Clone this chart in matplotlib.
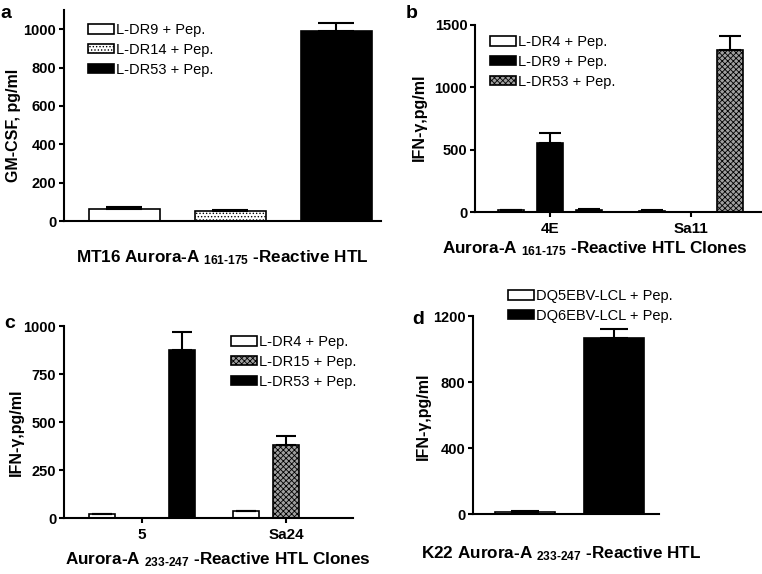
import matplotlib.pyplot as plt
import numpy as np

plt.rcParams['font.family'] = 'Liberation Sans'
plt.rcParams['mathtext.fontset'] = 'custom'
plt.rcParams['mathtext.rm'] = 'Liberation Sans:bold'
plt.rcParams['mathtext.bf'] = 'Liberation Sans:bold'
plt.rcParams['mathtext.it'] = 'Liberation Sans:bold:italic'
plt.rcParams['hatch.linewidth'] = 0.6

# panel a: GM-CSF, MT16
a_labels = ['L-DR9 + Pep.', 'L-DR14 + Pep.', 'L-DR53 + Pep.']
a_vals = [65, 52, 990]
a_err = [8, 7, 40]

# panel b: IFN-gamma, clones 4E / Sa11
b_clones = ['4E', 'Sa11']
b_labels = ['L-DR4 + Pep.', 'L-DR9 + Pep.', 'L-DR53 + Pep.']
b_vals = [[15, 12], [550, 0], [20, 1300]]
b_err = [[3, 3], [80, 0], [3, 110]]

# panel c: IFN-gamma, clones 5 / Sa24
c_clones = ['5', 'Sa24']
c_labels = ['L-DR4 + Pep.', 'L-DR15 + Pep.', 'L-DR53 + Pep.']
c_vals = [[20, 35], [0, 380], [875, 0]]
c_err = [[3, 4], [0, 45], [95, 0]]

# panel d: IFN-gamma, K22
d_labels = ['DQ5EBV-LCL + Pep.', 'DQ6EBV-LCL + Pep.']
d_vals = [15, 1065]
d_err = [3, 55]

W, H = 762, 574
fig = plt.figure(figsize=(W / 100, H / 100), dpi=100)

def fx(px):
    return px / W

def fy(py):
    return 1 - py / H

def style(ax):
    for s in ['top', 'right']:
        ax.spines[s].set_visible(False)
    for s in ['left', 'bottom']:
        ax.spines[s].set_linewidth(1.5)
    ax.tick_params(axis='y', direction='out', length=3.5, width=1.5,
                   labelsize=10.5, pad=2)
    ax.tick_params(axis='x', direction='out', length=3.5, width=1.5,
                   labelsize=11, pad=4)
    for t in ax.get_yticklabels() + ax.get_xticklabels():
        t.set_fontweight('bold')

def ylab(x, y, s):
    fig.text(fx(x), fy(y), s, rotation=90, ha='center', va='center',
             fontsize=11.5, fontweight='bold')

def legend(handles, x, y):
    fig.legend(handles=handles, loc='upper left', bbox_to_anchor=(fx(x), fy(y)),
               frameon=False, fontsize=10.5, handlelength=1.8, handleheight=0.62,
               handletextpad=0.1, labelspacing=0.4, borderpad=0, borderaxespad=0)

bar_kw = dict(edgecolor='black', linewidth=1.2)
err_kw = dict(fmt='none', ecolor='black', elinewidth=1.5, capthick=1.5)

white = dict(facecolor='white')
black = dict(facecolor='black')
dots = dict(facecolor='white', hatch='.....')
check = dict(facecolor='#a0a0a0', hatch='xxxxxx')

# ---------- a ----------
ax = fig.add_axes([fx(64), fy(221), fx(381 - 64), fy(10) - fy(221)])
pos = np.arange(3)
fills = [white, dots, black]
handles = []
for i in range(3):
    h = ax.bar(pos[i], a_vals[i], 0.67, label=a_labels[i], **bar_kw, **fills[i])
    handles.append(h)
    ax.errorbar(pos[i], a_vals[i], yerr=[[0], [a_err[i]]], capsize=13, **err_kw)
ax.set_xlim(-0.57, 2.42)
ax.set_ylim(0, 1100)
ax.set_yticks([0, 200, 400, 600, 800, 1000])
ax.set_xticks([])
style(ax)
ylab(14, 125, 'GM-CSF, pg/ml')
legend(handles, 88, 23)
fig.text(fx(222), fy(258), r'MT16 Aurora-A $_{\mathrm{161\text{-}175}}$ -Reactive HTL',
         ha='center', va='center', fontsize=12.3, fontweight='bold')
fig.text(fx(6), fy(14), 'a', fontsize=14, fontweight='bold', ha='center', va='center')

# ---------- grouped helper ----------
def grouped(ax, clones, labels, vals, errs, fills, cap):
    x = np.arange(len(clones))
    hs = []
    for i in range(len(labels)):
        h = ax.bar(x + (i - 1) * 0.277, vals[i], 0.184, label=labels[i],
                   **bar_kw, **fills[i])
        hs.append(h)
        for j in range(len(clones)):
            if vals[i][j] > 0:
                ax.errorbar(x[j] + (i - 1) * 0.277, vals[i][j],
                            yerr=[[0], [errs[i][j]]], capsize=cap, **err_kw)
    ax.set_xticks(x)
    ax.set_xticklabels(clones)
    return hs

# ---------- b ----------
ax = fig.add_axes([fx(475), fy(212), fx(762 - 475), fy(25) - fy(212)])
hs = grouped(ax, b_clones, b_labels, b_vals, b_err, [white, black, check], 8)
ax.set_xlim(-0.53, 1.50)
ax.set_ylim(0, 1500)
ax.set_yticks([0, 500, 1000, 1500])
style(ax)
ylab(419, 117, 'IFN-γ,pg/ml')
legend(hs, 490, 35)
fig.text(fx(595), fy(249), r'Aurora-A $_{\mathrm{161\text{-}175}}$ -Reactive HTL Clones',
         ha='center', va='center', fontsize=12.3, fontweight='bold')
fig.text(fx(412), fy(14), 'b', fontsize=14, fontweight='bold', ha='center', va='center')

# ---------- c ----------
ax = fig.add_axes([fx(64), fy(518), fx(353 - 64), fy(326) - fy(518)])
hs = grouped(ax, c_clones, c_labels, c_vals, c_err, [white, check, black], 7)
ax.set_xlim(-0.54, 1.465)
ax.set_ylim(0, 1000)
ax.set_yticks([0, 250, 500, 750, 1000])
style(ax)
ylab(16, 432, 'IFN-γ,pg/ml')
legend(hs, 231, 335)
fig.text(fx(218), fy(560), r'Aurora-A $_{\mathrm{233\text{-}247}}$ -Reactive HTL Clones',
         ha='center', va='center', fontsize=12.3, fontweight='bold')
fig.text(fx(10), fy(324), 'c', fontsize=14, fontweight='bold', ha='center', va='center')

# ---------- d ----------
ax = fig.add_axes([fx(473), fy(514), fx(659 - 473), fy(316) - fy(514)])
pos = np.arange(2)
fills = [white, black]
handles = []
for i in range(2):
    h = ax.bar(pos[i], d_vals[i], 0.67, label=d_labels[i], **bar_kw, **fills[i])
    handles.append(h)
    ax.errorbar(pos[i], d_vals[i], yerr=[[0], [d_err[i]]], capsize=10, **err_kw)
ax.set_xlim(-0.575, 1.50)
ax.set_ylim(0, 1200)
ax.set_yticks([0, 400, 800, 1200])
ax.set_xticks([])
style(ax)
ylab(423, 416, 'IFN-γ,pg/ml')
legend(handles, 508, 289)
fig.text(fx(561), fy(554), r'K22 Aurora-A $_{\mathrm{233\text{-}247}}$ -Reactive HTL',
         ha='center', va='center', fontsize=12.3, fontweight='bold')
fig.text(fx(418), fy(320), 'd', fontsize=14, fontweight='bold', ha='center', va='center')

fig.savefig('out.png', dpi=100)
